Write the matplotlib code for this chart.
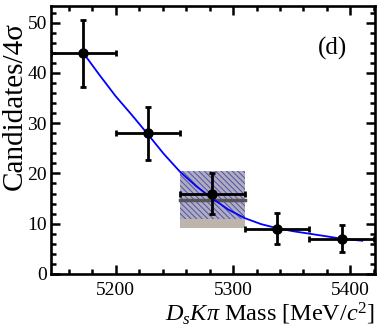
import matplotlib
matplotlib.use("Agg")
import matplotlib.pyplot as plt
import matplotlib.ticker as ticker
from matplotlib.patches import Rectangle

# binned data (D_s K pi mass)
bin_centers = [5172.5, 5227.5, 5282.5, 5337.5, 5392.5]
bin_halfwidth = [27.5, 27.5, 27.5, 27.5, 27.5]
counts = [44, 28, 16, 9, 7]
err_lo = [6.7, 5.4, 4.1, 3.0, 2.7]
err_hi = [6.6, 5.3, 4.0, 3.1, 2.7]

# fitted curve
curve_x = [5172.5, 5186, 5200, 5214, 5227.5, 5241, 5255, 5269, 5282.5,
           5296, 5310, 5324, 5337.5, 5351, 5365, 5379, 5392.5, 5410]
curve_y = [44.0, 39.7, 35.4, 31.6, 27.8, 23.9, 20.3, 17.4, 15.0,
           12.8, 11.1, 9.9, 9.1, 8.5, 8.0, 7.5, 7.0, 6.6]

# signal region band
band_x = [5255, 5310]
band_total = [9.1, 20.4]
band_hatch = [11.0, 20.4]
band_mid = 14.8

plt.rcParams['font.family'] = ['Liberation Serif', 'DejaVu Serif']
plt.rcParams['mathtext.fontset'] = 'custom'
plt.rcParams['mathtext.rm'] = 'Liberation Serif'
plt.rcParams['mathtext.it'] = 'Liberation Serif:italic'
plt.rcParams['hatch.linewidth'] = 0.7

fig = plt.figure(figsize=(3.92, 3.34), dpi=100)
ax = fig.add_axes([0.130, 0.180, 0.827, 0.803])

ax.add_patch(Rectangle((band_x[0], band_total[0]), band_x[1] - band_x[0],
                       band_total[1] - band_total[0],
                       facecolor='#bdb4ab', edgecolor='none', zorder=1))
ax.add_patch(Rectangle((band_x[0], band_hatch[0]), band_x[1] - band_x[0],
                       band_hatch[1] - band_hatch[0],
                       facecolor='#b0adc0', edgecolor='#5050a8', linewidth=0,
                       hatch='\\\\\\\\\\\\', zorder=2))
ax.plot(band_x, [band_mid, band_mid], color='#555555', linewidth=2.5, zorder=3)

ax.plot(curve_x, curve_y, color='#0000ff', linewidth=1.3, zorder=4)

ax.errorbar(bin_centers, counts, xerr=bin_halfwidth, yerr=[err_lo, err_hi],
            fmt='o', color='black', markersize=6.5, elinewidth=2,
            capsize=2.5, capthick=2, zorder=5)

ax.set_xlim(5145, 5421)
ax.set_ylim(0, 53.4)
ax.xaxis.set_major_locator(ticker.MultipleLocator(100))
ax.xaxis.set_minor_locator(ticker.MultipleLocator(20))
ax.yaxis.set_major_locator(ticker.MultipleLocator(10))
ax.yaxis.set_minor_locator(ticker.MultipleLocator(2))
ax.tick_params(which='both', direction='in', top=True, right=True,
               width=1.8, labelsize=14)
ax.tick_params(which='major', length=6.5)
ax.tick_params(which='minor', length=3.6)
ax.tick_params(axis='x', pad=6)
ax.tick_params(axis='y', pad=3)
for sp in ax.spines.values():
    sp.set_linewidth(1.9)

ax.set_xlabel(r'$D_sK\pi$ Mass [MeV/$c^2$]', fontsize=17.5, loc='right',
              labelpad=1)
ax.set_ylabel('Candidates/4σ', fontsize=21)
ax.yaxis.set_label_coords(-0.072, 0.625)
ax.text(5385, 44.8, '(d)', fontsize=18, ha='center', va='center')

fig.savefig('out.png', dpi=100)
